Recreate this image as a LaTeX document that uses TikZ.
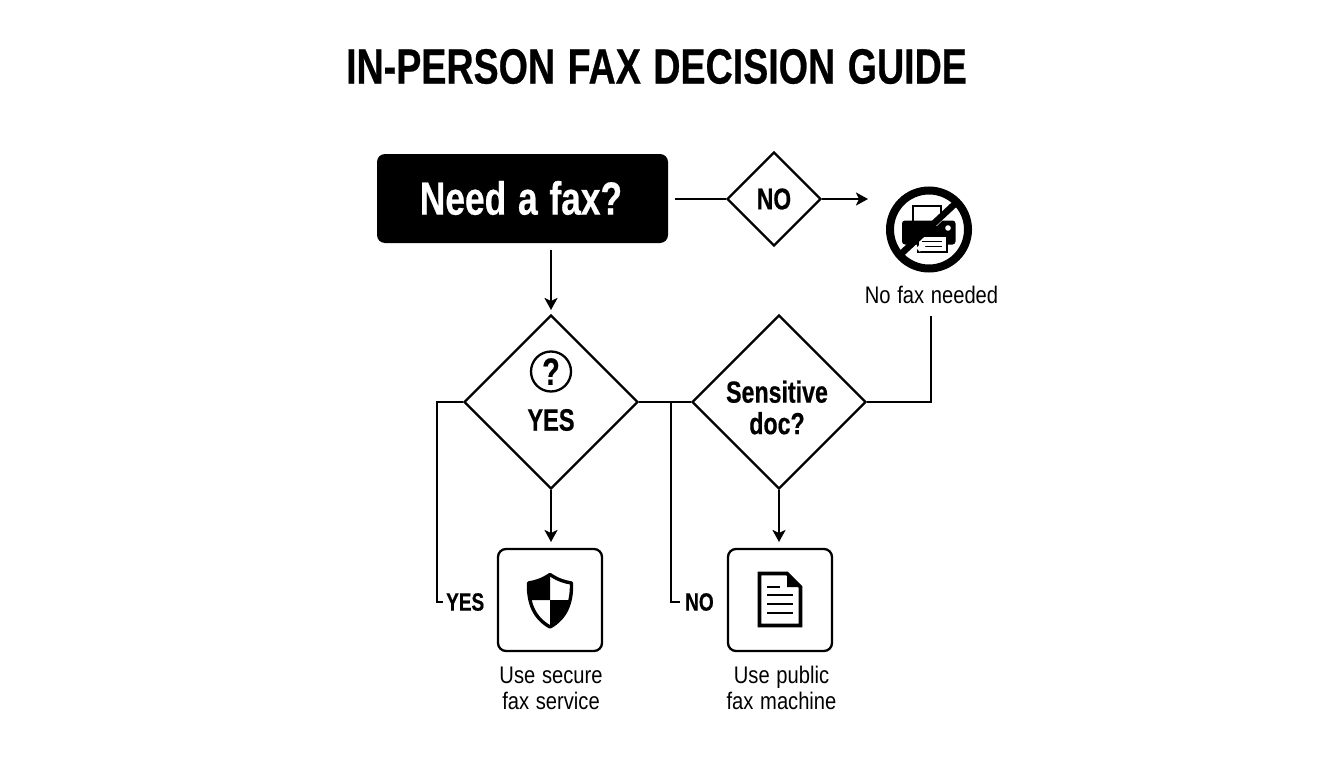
\documentclass[tikz,border=0pt]{standalone}
\usepackage{fontspec}
\setmainfont{Liberation Sans}
\newfontfamily\narrowfont[FakeStretch=0.76, WordSpace=1.2, BoldFeatures={FakeBold=0.5}]{Liberation Sans}
\newfontfamily\plainfont[FakeStretch=0.84, WordSpace=1.2]{Liberation Sans}
\usetikzlibrary{shapes.geometric,arrows.meta}

\tikzset{
    conn/.style={line width=2.3pt, line join=miter},
    arr/.style={conn, -{Stealth[length=12pt,width=13pt,inset=3pt]}},
    startbox/.style={fill=black, rounded corners=8pt, minimum width=291pt, minimum height=89pt, inner sep=0pt},
    decision/.style={diamond, draw, line width=2.3pt, aspect=1, inner sep=0pt, fill=white},
    iconbox/.style={draw, line width=2.3pt, rounded corners=8pt, minimum width=104pt, minimum height=102pt, inner sep=0pt},
    boldtxt/.style={font=\narrowfont\bfseries\fontsize{#1}{#1}\selectfont, inner sep=0pt, align=center},
    plaintxt/.style={font=\plainfont\fontsize{24}{26}\selectfont, inner sep=0pt, align=center}
}

\begin{document}
\begin{tikzpicture}[x=1pt, y=-1pt]
    \useasboundingbox (0, 0) rectangle (1344, 768);

    \node[boldtxt=49.5] (title) at (656.5, 66.5){IN-PERSON FAX DECISION GUIDE};

    \node[startbox] (start) at (522.5, 198.5){};
        \node[boldtxt=46.5, text=white] (startlabel) at (521, 198){Need a fax?};
    \node[decision, minimum size=94pt] (nodiamond) at (774, 199){};
        \node[boldtxt=30] (nolabel) at (774, 199){NO};
    \node[decision, minimum size=174pt] (askdiamond) at (551, 402){};
        \node[boldtxt=31] (yeslabel) at (551, 420){YES};
    \node[decision, minimum size=174pt] (docdiamond) at (779, 402){};
        \node[boldtxt=30.5] (doclabel) at (777, 407.5){Sensitive\\[1pt]doc?};
    \node[iconbox] (securebox) at (550, 600){};
    \node[iconbox] (publicbox) at (780, 600){};

    \node[plaintxt] (nofax) at (931.5, 295){No fax needed};
    \node[plaintxt] (securelabel) at (551, 688){Use secure\\fax service};
    \node[plaintxt] (publiclabel) at (781.5, 688){Use public\\fax machine};
    \node[boldtxt=25, anchor=west] (yesside) at (446, 602){YES};
    \node[boldtxt=25, anchor=west] (noside) at (685, 602){NO};

    % free ends
    \coordinate (startout) at (675, 199);
    \coordinate (noout) at (868, 199);
    \coordinate (startdown) at (551, 250);
    \coordinate (askin) at (551, 310);
    \coordinate (secureend) at (551, 542);
    \coordinate (publicend) at (779, 542);
    \coordinate (yesturn) at (437, 402);
    \coordinate (yesend) at (443, 602);
    \coordinate (noturn) at (671, 402);
    \coordinate (noend) at (680, 602);
    \coordinate (docturn) at (931, 402);
    \coordinate (nofaxend) at (931, 316);

    \draw[conn] (startout) to (nodiamond.west);
    \draw[arr] (nodiamond.east) to (noout);
    \draw[arr] (startdown) to (askin);
    \draw[arr] (askdiamond.south) to (secureend);
    \draw[arr] (docdiamond.south) to (publicend);
    \draw[conn] (askdiamond.west) -- (yesturn) |- (yesend);
    \draw[conn] (askdiamond.east) to (docdiamond.west);
    \draw[conn] (noturn) |- (noend);
    \draw[conn] (docdiamond.east) -- (docturn) -- (nofaxend);

    % question mark
    \node[circle, draw, line width=2.3pt, minimum size=40pt, inner sep=0pt, boldtxt=38] (askicon) at (551, 371.5){?};

    % printer
    \draw[line width=2pt] (913, 206) rectangle (941, 225);
    \fill[rounded corners=3pt] (902, 220.5) rectangle (955.5, 244.5);
    \fill[white] (948, 228) circle (2.8);
    \draw[line width=2pt, fill=white] (918, 236) rectangle (946.5, 252);
    \draw[line width=1.6pt] (922, 241.5) to (942, 241.5);
    \draw[line width=1.6pt] (920, 246.5) to (942, 246.5);
    \draw[white, line width=2pt] (945.5, 216) to (936, 225.5);
    \draw[white, line width=5pt] (918, 250) to (924, 244);
    \draw[line width=6.5pt] (958, 201) to (901, 254);
    \node[circle, draw, line width=8pt, minimum size=78pt, inner sep=0pt] (noicon) at (929, 229.5){};

    % shield
    \draw[line width=3.4pt, line join=round] (550, 574.5) .. controls (558, 580) and (565, 582) .. (571.5, 583)
        .. controls (572, 603) and (566, 618) .. (550, 627) .. controls (534, 618) and (528, 603) .. (528.5, 583)
        .. controls (535, 582) and (542, 580) .. (550, 574.5) -- cycle;
    \fill (550, 574.5) .. controls (542, 580) and (535, 582) .. (528, 583) .. controls (528, 589) and (529, 595) .. (531, 600) -- (550, 600) -- cycle;
    \fill (550, 600) -- (570, 600) .. controls (567, 611) and (561, 621) .. (550, 627) -- cycle;

    % document
    \draw[line width=3.6pt, line join=miter] (759.5, 573.5) -- (787, 573.5) -- (800.5, 587) -- (800.5, 625.5) -- (759.5, 625.5) -- cycle;
    \fill (787, 573) -- (802, 587) -- (787, 587) -- cycle;
    \draw[line width=2.6pt] (767, 587) to (780, 587);
    \foreach \liney in {595, 604, 613}
        \draw[line width=2.6pt] (767, \liney) to (793, \liney);

\end{tikzpicture}
\end{document}
